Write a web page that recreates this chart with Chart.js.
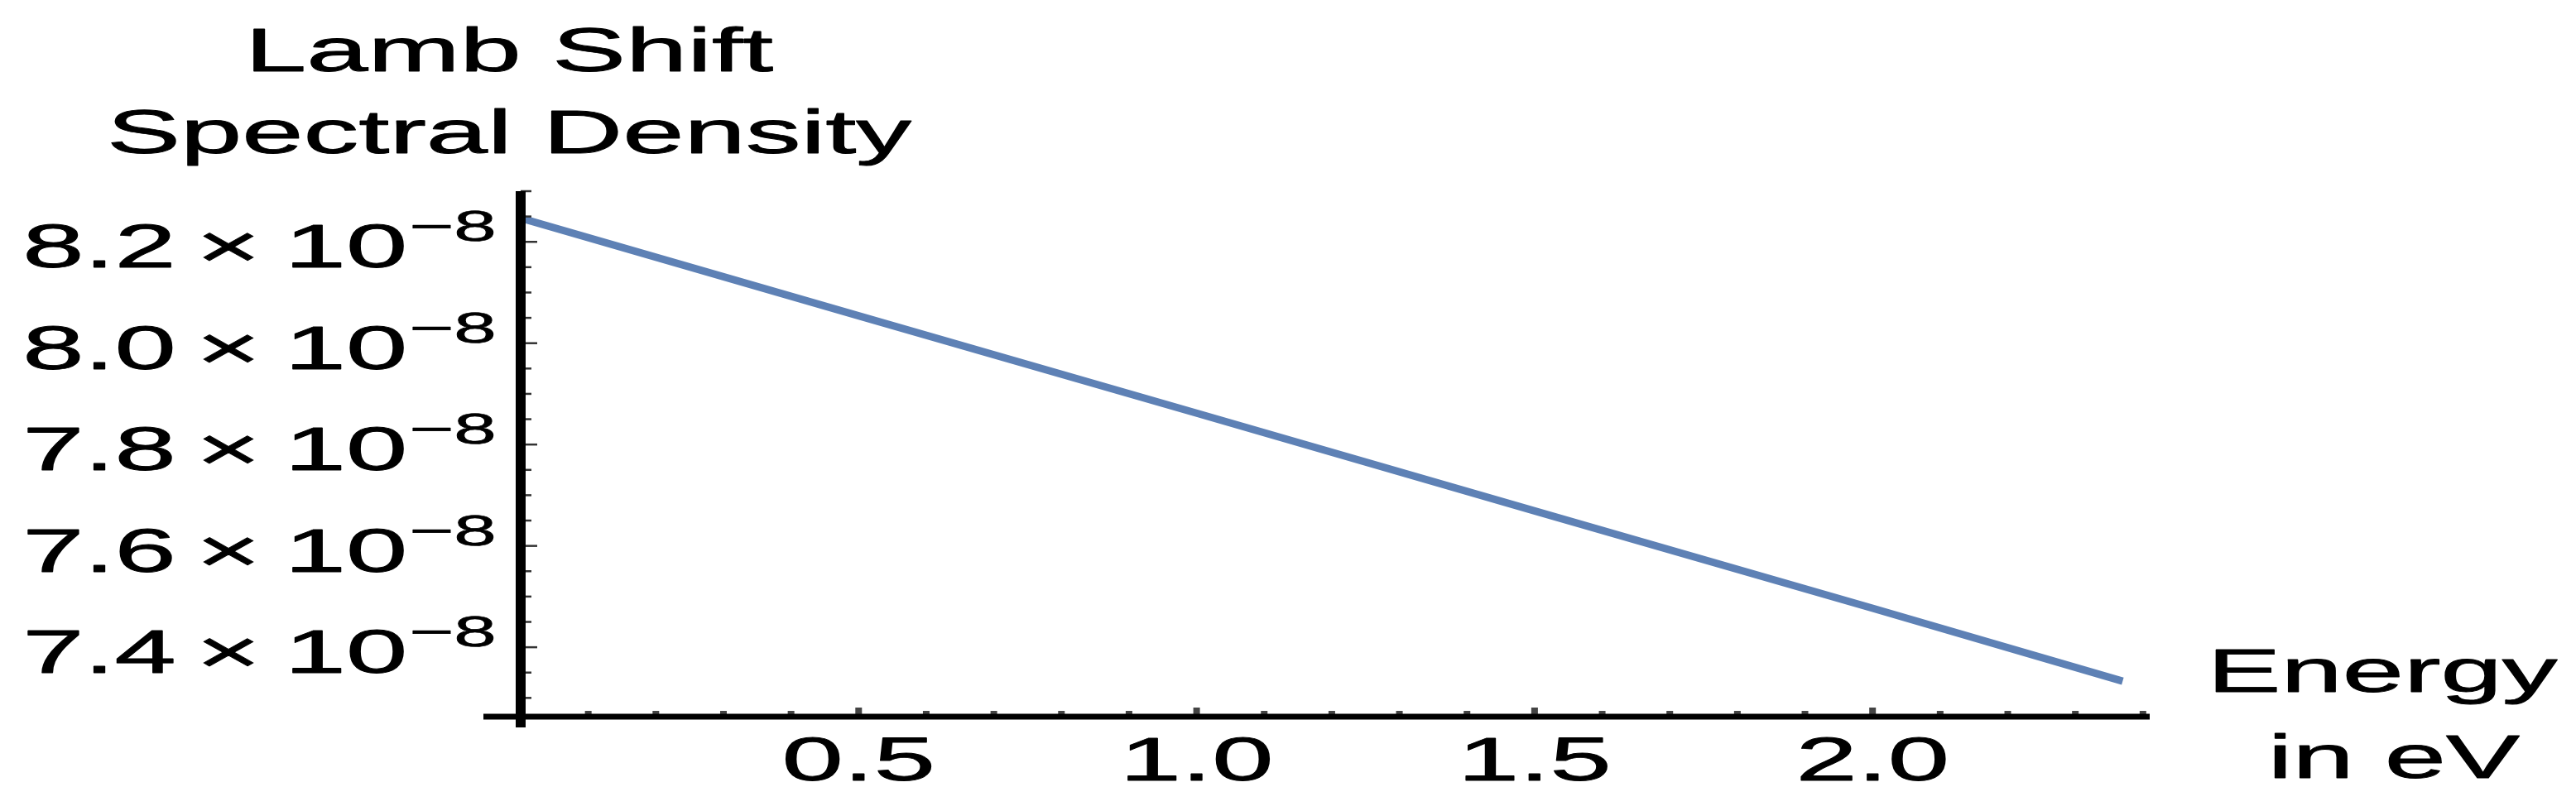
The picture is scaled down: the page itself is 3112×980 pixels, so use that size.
<!DOCTYPE html>
<html>
<head>
<meta charset="utf-8">
<title>Lamb Shift Spectral Density</title>
<script src="https://cdn.jsdelivr.net/npm/chart.js@4.4.1/dist/chart.umd.min.js"></script>
<style>
  html, body { margin: 0; padding: 0; background: #fff; }
  canvas { display: block; }
</style>
</head>
<body>
<canvas id="lamb-shift-chart" width="3112" height="980"></canvas>
<script>
'use strict';

// Values (energy in eV, density in units of 1e-8)
const energy = [0, 0.5, 1.0, 1.5, 2.0, 2.37];
const density = [8.247, 8.054, 7.862, 7.669, 7.477, 7.333];

const xMajorTicks = [0.5, 1.0, 1.5, 2.0];
const xMinorTicks = [0.1, 0.2, 0.3, 0.4, 0.6, 0.7, 0.8, 0.9, 1.1, 1.2, 1.3, 1.4, 1.6, 1.7, 1.8, 1.9, 2.1, 2.2, 2.3, 2.4];
const yMajorTicks = [7.4, 7.6, 7.8, 8.0, 8.2];
const yMinorTicks = [7.3, 7.35, 7.45, 7.5, 7.55, 7.65, 7.7, 7.75, 7.85, 7.9, 7.95, 8.05, 8.1, 8.15, 8.25, 8.3];

const titleLines = ['Lamb Shift', 'Spectral Density'];
const xTitleLines = ['Energy', 'in eV'];
const yExponent = '\u22128';

const SCALE = 1e-8;
const STRETCH = 1.78; // the picture's text is stretched sideways
const FONT = '"Liberation Sans", Arial, sans-serif';

function drawText(ctx, text, x, y, size, align) {
  ctx.save();
  ctx.translate(x, y);
  ctx.scale(STRETCH, 1);
  ctx.font = size + 'px ' + FONT;
  ctx.textAlign = align;
  ctx.textBaseline = 'alphabetic';
  ctx.fillStyle = '#000';
  ctx.strokeStyle = '#000';
  ctx.lineWidth = size * 0.012;
  ctx.lineJoin = 'round';
  ctx.fillText(text, 0, 0);
  ctx.strokeText(text, 0, 0);
  ctx.restore();
}

// Mathematica-style axes crossing at the origin, ticks drawn inside
const axesPlugin = {
  id: 'mmaAxes',
  afterDatasetsDraw(chart) {
    const ctx = chart.ctx;
    const xs = chart.scales.x;
    const ys = chart.scales.y;
    const x0 = xs.getPixelForValue(0);
    const y0 = ys.getPixelForValue(ys.min);
    const yTop = ys.getPixelForValue(ys.max);
    const xEnd = xs.getPixelForValue(xs.max);

    // tick marks
    ctx.save();
    ctx.strokeStyle = '#333';
    ctx.lineWidth = 2.5;
    yMajorTicks.concat(yMinorTicks).forEach(function(v) {
      const py = ys.getPixelForValue(v * SCALE);
      const len = yMajorTicks.indexOf(v) >= 0 ? 20 : 13;
      ctx.beginPath();
      ctx.moveTo(x0, py);
      ctx.lineTo(x0 + len, py);
      ctx.stroke();
    });
    ctx.fillStyle = '#444';
    xMajorTicks.concat(xMinorTicks).forEach(function(v) {
      const px = xs.getPixelForValue(v);
      const h = xMajorTicks.indexOf(v) >= 0 ? 11 : 7;
      ctx.fillRect(px - 4, y0 - h, 8, h);
    });

    // axis lines
    ctx.fillStyle = '#000';
    ctx.fillRect(x0 - 6, yTop, 12, y0 - yTop + 13);
    ctx.fillRect(x0 - 45, y0 - 3.5, xEnd - x0 + 45, 7);
    ctx.restore();

    // y tick labels: "8.2 × 10^-8", pieces placed like the picture
    yMajorTicks.forEach(function(v) {
      const py = ys.getPixelForValue(v * SCALE);
      drawText(ctx, v.toFixed(1), x0 - 509, py + 31, 75, 'center');
      drawText(ctx, '\u00d7', x0 - 353, py + 31, 75, 'center');
      drawText(ctx, '10', x0 - 211, py + 31, 75, 'center');
      drawText(ctx, yExponent, x0 - 82, py - 1, 52, 'center');
    });

    // x tick labels
    xMajorTicks.forEach(function(v) {
      drawText(ctx, v.toFixed(1), xs.getPixelForValue(v), y0 + 77, 75, 'center');
    });

    // axis titles
    drawText(ctx, titleLines[0], 615, 86, 75, 'center');
    drawText(ctx, titleLines[1], 615, 185, 75, 'center');
    drawText(ctx, xTitleLines[0], 2878, 836, 75, 'center');
    drawText(ctx, xTitleLines[1], 2892, 940, 75, 'center');
  }
};

const points = energy.map(function(e, i) {
  return { x: e, y: density[i] * SCALE };
});

const ctx = document.getElementById('lamb-shift-chart').getContext('2d');
const chart = new Chart(ctx, {
  type: 'line',
  data: {
    datasets: [{
      label: 'Lamb Shift Spectral Density',
      data: points,
      borderColor: 'rgb(94, 129, 181)',
      borderWidth: 9,
      pointRadius: 0,
      tension: 0,
      fill: false
    }]
  },
  options: {
    responsive: false,
    animation: false,
    devicePixelRatio: 1,
    layout: {
      padding: { left: 629, right: 515, top: 231, bottom: 114 }
    },
    plugins: {
      legend: { display: false },
      tooltip: { enabled: false }
    },
    scales: {
      x: { type: 'linear', min: 0, max: 2.41, display: false },
      y: { type: 'linear', min: 7.263 * SCALE, max: 8.30 * SCALE, display: false }
    }
  },
  plugins: [axesPlugin]
});
</script>
</body>
</html>
